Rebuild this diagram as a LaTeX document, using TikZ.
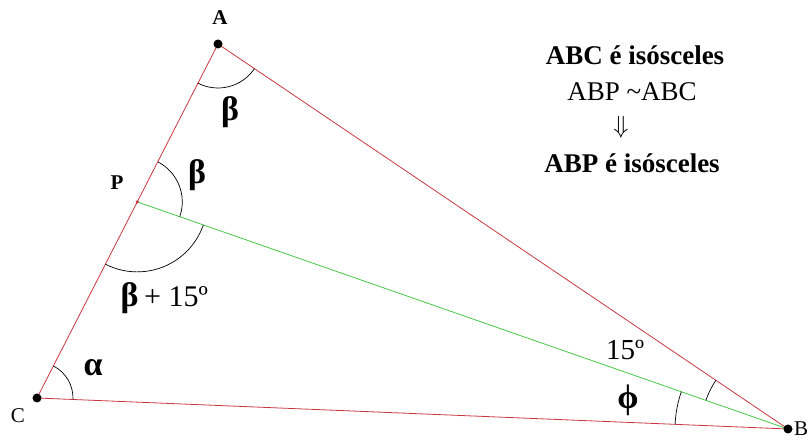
\documentclass[tikz,border=0pt]{standalone}
\usepackage{amsmath}
\usepackage{fontspec}
\setmainfont{Liberation Serif}
\usepackage{tikz}
\usetikzlibrary{angles, calc}

\definecolor{sidered}{RGB}{200,55,65}
\definecolor{cevagreen}{RGB}{70,200,70}

\begin{document}
\begin{tikzpicture}[
    x=1pt, y=1pt,
    side/.style={draw=sidered, line width=0.8pt},
    ceva/.style={draw=cevagreen, line width=0.8pt},
    ang/.style={draw=black, line width=0.7pt},
    vdot/.style={circle, fill=black, inner sep=0pt, minimum size=9pt},
    pdot/.style={circle, fill=sidered, inner sep=0pt, minimum size=3.5pt},
    vlabel/.style={font=\fontsize{21}{23}\selectfont},
    glabel/.style={font=\bfseries\fontsize{34}{36}\selectfont},
    nlabel/.style={font=\fontsize{29}{31}\selectfont},
    note/.style={font=\fontsize{27}{30}\selectfont},
]
\useasboundingbox (0,0) rectangle (810,446);

    % vertices
    \coordinate (A) at (218,402);
    \coordinate (B) at (788,17);
    \coordinate (C) at (37,48);
    \coordinate (P) at ($(C)!0.554!(A)$);

    \draw[side] (A) -- (B) -- (C) -- cycle;
    \draw[ceva] (P) -- (B);

    % angles
    \pic[ang, angle radius=44] {angle=C--A--B};
    \pic[ang, angle radius=45] {angle=B--P--A};
    \pic[ang, angle radius=70] {angle=C--P--B};
    \pic[ang, angle radius=36] {angle=B--C--A};
    \pic[ang, angle radius=113] {angle=P--B--C};
    \pic[ang, angle radius=87] {angle=A--B--P};

    \node[vdot] (dA) at (A) {};
    \node[vdot] (dB) at (B) {};
    \node[vdot] (dC) at (C) {};
    \node[pdot] (dP) at (P) {};

    \node[vlabel, font=\bfseries\fontsize{21}{23}\selectfont] (lA) at (220,428) {A};
    \node[vlabel] (lB) at (801,17) {B};
    \node[vlabel] (lC) at (18,30) {C};
    \node[vlabel, font=\bfseries\fontsize{21}{23}\selectfont] (lP) at (117,263) {P};

    \node[glabel] (betaA) at (230,334) {β};
    \node[glabel] (betaP) at (197,271) {β};
    \node[glabel, anchor=west] (betaC) at (117,148) {β\,\mdseries\fontsize{30}{32}\selectfont+ 15º};
    \node[glabel] (alpha) at (93,78) {α};
    \node[glabel] (phi) at (628,46) {ϕ};
    \node[nlabel] (fifteen) at (625,96) {15º};

    \node[note, font=\bfseries\fontsize{27}{30}\selectfont] (t1) at (635,391) {ABC é isósceles};
    \node[note] (t2) at (632,354) {ABP \textasciitilde ABC};
    \node[note] (t3) at (621,319) {$\Downarrow$};
    \node[note, font=\bfseries\fontsize{27}{30}\selectfont] (t4) at (632,283) {ABP é isósceles};

\end{tikzpicture}
\end{document}
